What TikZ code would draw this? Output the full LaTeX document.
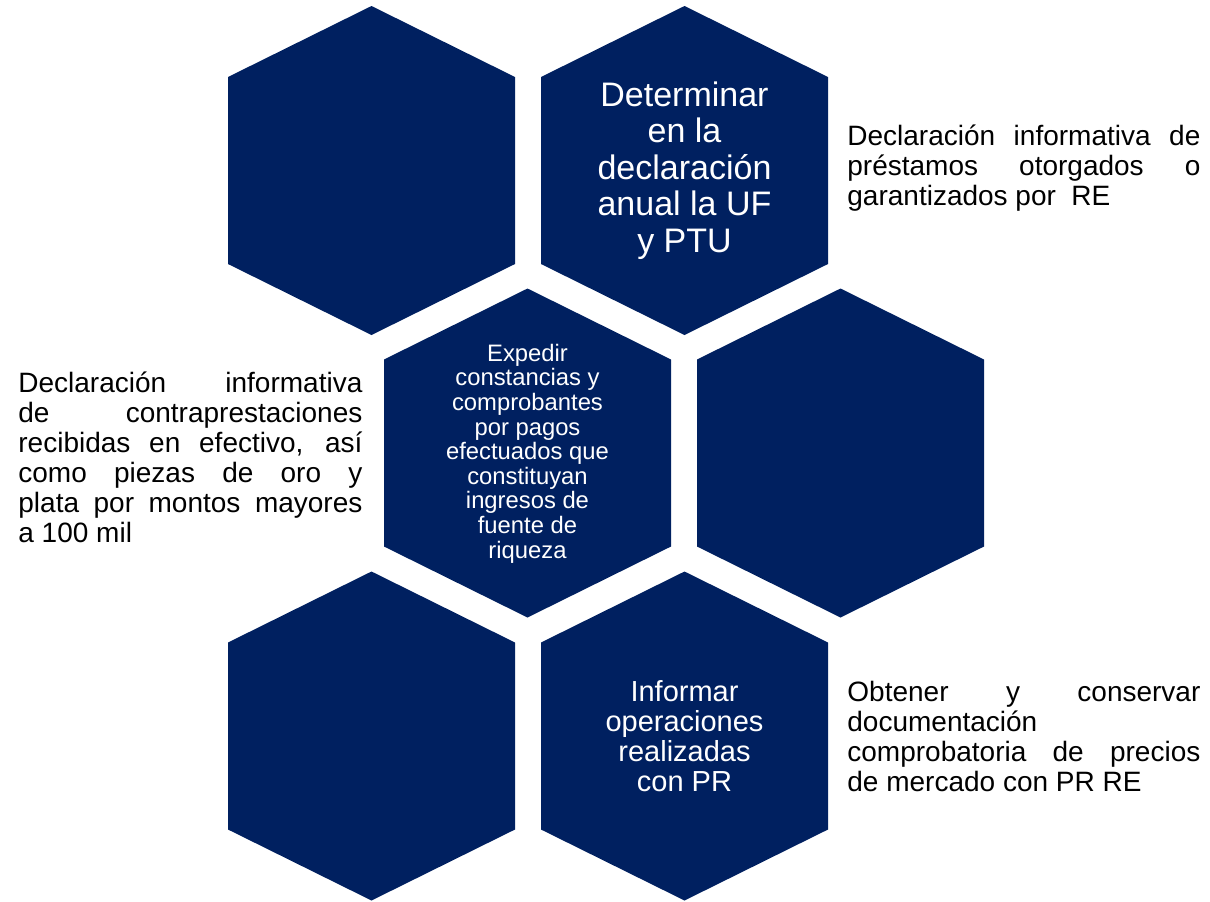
\documentclass[tikz,border=0pt]{standalone}
\usepackage{fontspec}
\setmainfont{Liberation Sans}
\definecolor{hexblue}{RGB}{0,32,96}
% justified block beside the hexagons
\newcommand{\justblock}[2]{\parbox{#1}{\tolerance=10000 \hbadness=10000 \hyphenpenalty=10000 #2}}
\begin{document}
\begin{tikzpicture}[x=0.5pt, y=-0.5pt,
        hexcell/.style={fill=hexblue},
        hexlabel/.style={text=white, align=center, inner sep=0pt},
        sidetext/.style={inner sep=0pt, anchor=west, font=\fontsize{14}{15}\selectfont}
    ]
        \useasboundingbox (0,0) rectangle (1210,901);
        % hexagons, centre x/y
        \foreach \cx/\cy in {371.5/170.5, 684.5/170.5, 527.5/453, 840.5/453, 371.5/736, 684.5/736} {
            \fill[hexcell] (\cx,\cy-164.5) -- (\cx+143.5,\cy-93.5) -- (\cx+143.5,\cy+93.5)
                -- (\cx,\cy+164.5) -- (\cx-143.5,\cy+93.5) -- (\cx-143.5,\cy-93.5) -- cycle;
        }
        % texts in the hexagons
        \node[hexlabel, font=\fontsize{17}{18.2}\selectfont] (determinar) at (684.5,170.5)
            {Determinar\\en la\\declaración\\anual la UF\\y PTU};
        \node[hexlabel, font=\fontsize{11.9}{12.3}\selectfont] (expedir) at (527.5,453.5)
            {Expedir\\constancias y\\comprobantes\\por pagos\\efectuados que\\constituyan\\ingresos de\\fuente de\\riqueza};
        \node[hexlabel, font=\fontsize{14.5}{15}\selectfont] (informar) at (684.5,736)
            {Informar\\operaciones\\realizadas\\con PR};
        % texts beside them
        \node[sidetext] (prestamos) at (847,168.5)
            {\justblock{176.5pt}{Declaración informativa de\linebreak préstamos otorgados o\linebreak garantizados por~~RE}};
        \node[sidetext] (contraprestaciones) at (18,457)
            {\justblock{172pt}{Declaración informativa\linebreak de contraprestaciones\linebreak recibidas en efectivo, así\linebreak como piezas de oro y\linebreak plata por montos mayores\linebreak a 100 mil}};
        \node[sidetext] (documentacion) at (847,736)
            {\justblock{176.5pt}{Obtener y conservar\linebreak documentación\linebreak comprobatoria de precios\linebreak de mercado con PR RE}};
\end{tikzpicture}
\end{document}
